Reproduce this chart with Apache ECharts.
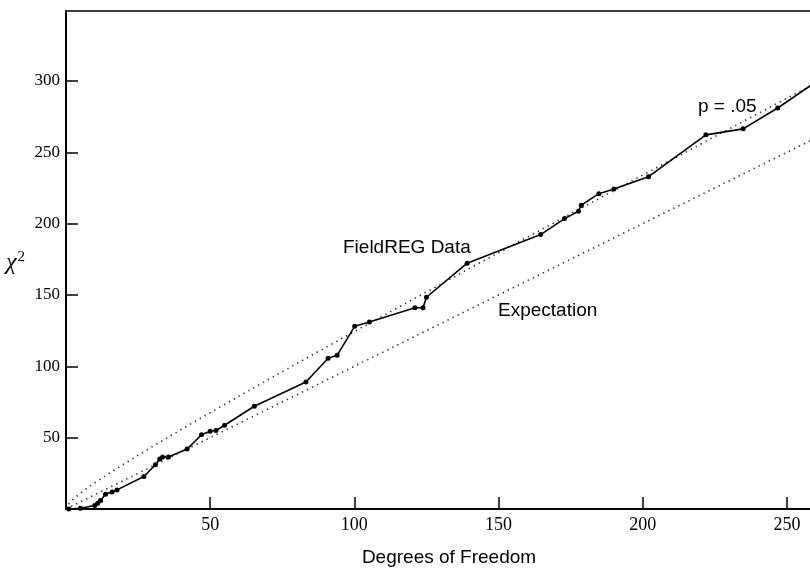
<!DOCTYPE html>
<html>
<head>
<meta charset="utf-8">
<script src="https://cdn.jsdelivr.net/npm/echarts@6/dist/echarts.min.js"></script>
<style>html,body{margin:0;padding:0;background:#fff}#c{width:810px;height:568px}</style>
</head>
<body>
<div id="c"></div>
<script>
// FieldREG observed chi-square vs degrees of freedom
const dataDf  = [1, 5, 10, 11, 12, 13.7, 16, 17.7, 27, 31, 32.5, 33.5, 35.5, 42, 47, 50, 52, 55, 65.3, 83.2, 90.9, 94, 100.1, 105.2, 121, 123.8, 125, 139.1, 164.6, 172.9, 177.7, 178.7, 184.8, 190, 202, 221.9, 234.8, 246.8, 262];
const dataChi = [0, 0.5, 2.5, 4, 6, 10.3, 12, 13.4, 22.8, 31, 35, 36.5, 36.5, 42, 52, 54.5, 55, 58.7, 72, 89, 105.6, 107.7, 128, 131, 141, 141, 148.4, 172.3, 192.3, 203.5, 208.7, 212.9, 221, 224.2, 232.9, 262.2, 266.4, 281, 302];
// p = .05 critical chi-square curve
const pDf  = [0, 1, 2, 3, 5, 7, 10, 15, 20, 25, 30, 40, 50, 60, 70, 80, 90, 100, 120, 140, 160, 180, 200, 220, 240, 260];
const pChi = [0, 3.84, 5.99, 7.81, 11.07, 14.07, 18.31, 25.0, 31.41, 37.65, 43.77, 55.76, 67.5, 79.08, 90.53, 101.88, 113.15, 124.34, 146.57, 168.61, 190.52, 212.3, 233.99, 255.6, 277.14, 298.6];
// expectation chi-square = df
const expDf  = [0, 262];
const expChi = [0, 262];
const xTicks = [50, 100, 150, 200, 250];
const yTicks = [50, 100, 150, 200, 250, 300];

const zip = (a, b) => a.map((v, i) => [v, b[i]]);
const chart = echarts.init(document.getElementById('c'));
const dotted = { color: '#000', width: 1.6, type: [1.4, 4.2], opacity: 0.8 };
chart.setOption({
  animation: false,
  grid: { left: 66, right: -3, top: 11, bottom: 59 },
  xAxis: [{
    type: 'value', min: 0, max: 258, interval: 50,
    splitLine: { show: false },
    axisLine: { show: true, onZero: false, lineStyle: { color: '#000', width: 2 } },
    axisTick: { show: true, inside: true, length: 12, customValues: xTicks, lineStyle: { color: '#000', width: 1.5 } },
    axisLabel: { color: '#000', fontFamily: 'Liberation Serif', fontSize: 18, margin: 7, customValues: xTicks }
  }, {
    type: 'value', min: 0, max: 258, position: 'top',
    splitLine: { show: false },
    axisLine: { show: true, onZero: false, lineStyle: { color: '#000', width: 1.5 } },
    axisTick: { show: false },
    axisLabel: { show: false }
  }],
  yAxis: {
    type: 'value', min: 0, max: 349, interval: 50,
    splitLine: { show: false },
    axisLine: { show: true, onZero: false, lineStyle: { color: '#000', width: 2 } },
    axisTick: { show: true, inside: true, length: 12, customValues: yTicks, lineStyle: { color: '#000', width: 1.5 } },
    axisLabel: { color: '#000', fontFamily: 'Liberation Serif', fontSize: 17, margin: 6, customValues: yTicks }
  },
  graphic: [
    { type: 'text', style: { x: 6, y: 263, verticalAlign: 'middle', text: '{a|χ}{b|2}',
      rich: { a: { fontFamily: 'Liberation Serif', fontSize: 24, fontStyle: 'italic', fill: '#000' },
              b: { fontFamily: 'Liberation Serif', fontSize: 15, fill: '#000', verticalAlign: 'top', padding: [0, 0, 12, 1] } } } },
    { type: 'text', style: { x: 449, y: 558, align: 'center', verticalAlign: 'middle', text: 'Degrees of Freedom', font: '19px "Liberation Sans"', fill: '#000' } },
    { type: 'text', style: { x: 343, y: 248, verticalAlign: 'middle', text: 'FieldREG Data', font: '19px "Liberation Sans"', fill: '#000' } },
    { type: 'text', style: { x: 498, y: 311, verticalAlign: 'middle', text: 'Expectation', font: '19px "Liberation Sans"', fill: '#000' } },
    { type: 'text', style: { x: 698, y: 107, verticalAlign: 'middle', text: 'p = .05', font: '19px "Liberation Sans"', fill: '#000' } }
  ],
  series: [
    { type: 'line', data: zip(expDf, expChi), showSymbol: false, lineStyle: dotted, clip: true, z: 1 },
    { type: 'line', data: zip(pDf, pChi), showSymbol: false, lineStyle: dotted, clip: true, z: 1 },
    { type: 'line', data: zip(dataDf, dataChi), symbol: 'circle', symbolSize: 5, clip: true, z: 3,
      itemStyle: { color: '#000' }, lineStyle: { color: '#000', width: 1.6 } }
  ]
});
</script>
</body>
</html>
